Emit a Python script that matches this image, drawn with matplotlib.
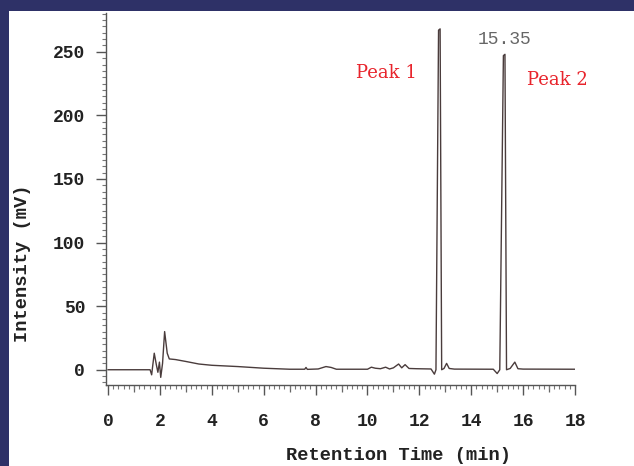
import matplotlib
matplotlib.use("Agg")
import matplotlib.pyplot as plt
from matplotlib.patches import Rectangle
from matplotlib.ticker import MultipleLocator, FixedLocator

# Retention time (min) and intensity (mV)
time_min = [0.0, 1.62, 1.68, 1.72, 1.78, 1.86, 1.92, 1.98, 2.03, 2.1, 2.18, 2.28, 2.36,
            2.6, 3.0, 3.5, 4.0, 5.0, 6.0, 7.0, 7.58, 7.63, 7.68, 8.1, 8.4, 8.6, 8.8,
            10.0, 10.15, 10.3, 10.5, 10.7, 10.85, 11.0, 11.2, 11.32, 11.45, 11.6, 11.9,
            12.45, 12.58, 12.64, 12.74, 12.8, 12.86, 12.95, 13.05, 13.15, 13.35,
            14.85, 15.0, 15.1, 15.24, 15.3, 15.36, 15.5, 15.68, 15.8, 16.0, 18.0]
intensity_mv = [0.0, 0.0, -4.0, 3.0, 13.0, 4.0, -2.0, 6.0, -6.0, 5.0, 30.0, 13.0, 8.5,
                8.0, 6.5, 4.5, 3.5, 2.5, 1.2, 0.4, 0.4, 1.8, 0.3, 0.6, 2.5, 1.8, 0.4,
                0.4, 2.0, 1.2, 0.8, 2.0, 0.6, 1.5, 4.5, 1.5, 4.0, 1.0, 0.8,
                0.6, -3.5, 0.0, 267.0, 268.0, 0.0, 1.0, 5.0, 1.0, 0.5,
                0.4, -3.0, 0.0, 247.0, 248.0, 0.0, 1.0, 6.0, 0.8, 0.5, 0.4]

x_ticks = [0, 2, 4, 6, 8, 10, 12, 14, 16, 18]
y_ticks = [0, 50, 100, 150, 200, 250]
peak_labels = ["Peak 1", "Peak 2"]
peak_label_pos = [(10.72, 233), (17.31, 228)]
rt_label = "15.35"
rt_label_pos = (15.27, 260)

fig = plt.figure(figsize=(6.34, 4.66), dpi=100)
fig.patch.set_facecolor("white")
navy = "#2e3167"
fig.patches.append(Rectangle((0, 0), 9 / 634, 1, transform=fig.transFigure,
                             facecolor=navy, edgecolor="none", zorder=0))
fig.patches.append(Rectangle((0, 1 - 11 / 466), 1, 11 / 466, transform=fig.transFigure,
                             facecolor=navy, edgecolor="none", zorder=0))

ax = fig.add_axes([106 / 634, 1 - 385 / 466, 469 / 634, 372 / 466])
ax.plot(time_min, intensity_mv, color="#4a3c3c", lw=1.0)

ax.set_xlim(-0.08, 18)
ax.set_ylim(-12, 280.5)
for s in ["top", "right"]:
    ax.spines[s].set_visible(False)
for s in ["left", "bottom"]:
    ax.spines[s].set_color("#555555")
    ax.spines[s].set_linewidth(1.0)

mono = "Liberation Mono"
ax.xaxis.set_major_locator(FixedLocator(x_ticks))
ax.yaxis.set_major_locator(FixedLocator(y_ticks))
ax.xaxis.set_minor_locator(MultipleLocator(0.2))
ax.yaxis.set_minor_locator(MultipleLocator(5))
ax.tick_params(axis="both", which="major", direction="out", length=7, width=1.0,
               color="#555555", labelsize=13)
ax.tick_params(axis="x", which="major", pad=13)
ax.tick_params(axis="y", which="major", pad=8)
ax.tick_params(axis="both", which="minor", direction="out", length=3, width=0.8,
               color="#777777")
for lab in ax.get_xticklabels() + ax.get_yticklabels():
    lab.set_fontfamily(mono)
    lab.set_fontweight("bold")
    lab.set_color("#222222")

# medium ticks at odd minutes
sec = ax.secondary_xaxis("bottom")
sec.spines["bottom"].set_visible(False)
sec.xaxis.set_major_locator(FixedLocator([1, 3, 5, 7, 9, 11, 13, 15, 17]))
sec.tick_params(axis="x", length=5, width=0.9, color="#666666", labelbottom=False)

ax.set_xlabel("Retention Time (min)", fontfamily=mono, fontweight="bold",
              fontsize=13.5, color="#222222", va="center")
ax.set_ylabel("Intensity (mV)", fontfamily=mono, fontweight="bold",
              fontsize=13.5, color="#222222", va="center")
ax.xaxis.set_label_coords((399 - 106) / 469, -(455 - 385) / 372)
ax.yaxis.set_label_coords(-(106 - 23) / 469, (385 - 263) / 372)

ax.text(rt_label_pos[0], rt_label_pos[1], rt_label, fontfamily=mono, fontsize=13,
        color="#666666", ha="center", va="center")
for lab, (px, py) in zip(peak_labels, peak_label_pos):
    ax.text(px, py, lab, fontfamily="DejaVu Serif", fontsize=13, color="#e8242c",
            ha="center", va="center", clip_on=False)

fig.savefig("out.png", dpi=100)
